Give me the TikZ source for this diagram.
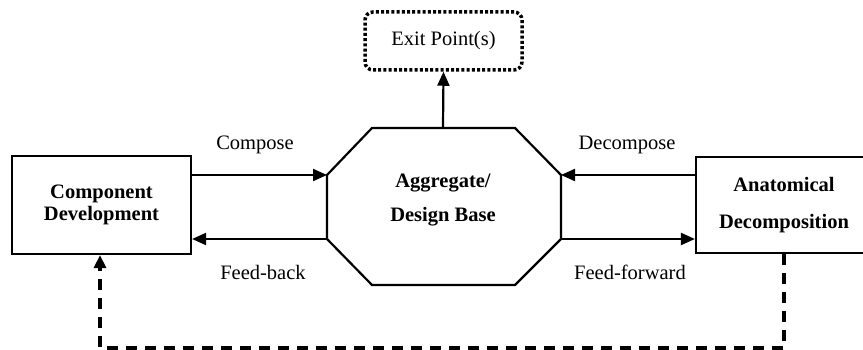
\documentclass[tikz,border=0pt]{standalone}
\usepackage{fontspec}
\setmainfont{Liberation Serif}
\usetikzlibrary{arrows.meta}
\begin{document}
\begin{tikzpicture}[x=1pt,y=-1pt,
  lbl/.style={font=\fontsize{20.5}{22}\selectfont, inner sep=0pt},
  box/.style={draw, line width=2.2pt, align=center, inner sep=0pt},
  boldtext/.style={font=\fontsize{20.5}{#1}\selectfont\bfseries},
  flow/.style={line width=2.2pt, -{Triangle[length=14pt,width=12pt]}},
  backlink/.style={line width=3.5pt, dash pattern=on 11pt off 8pt,
    -{Triangle[length=13pt,width=12pt]}},
  exitbox/.style={draw, line width=3.5pt, dash pattern=on 3pt off 2.2pt,
    rounded corners=8pt, minimum width=157pt, minimum height=58pt,
    inner sep=0pt, font=\fontsize{20.5}{22}\selectfont}
]
\path[use as bounding box, clip] (0,0) rectangle (863,350);

% central octagon
\coordinate (o1) at (372,128);
\coordinate (o2) at (515,128);
\coordinate (o3) at (561,175);
\coordinate (o4) at (561,239);
\coordinate (o5) at (515,285);
\coordinate (o6) at (372,285);
\coordinate (o7) at (327,239);
\coordinate (o8) at (327,175);
\coordinate (otop) at (443,128);
\draw[line width=2.2pt, line join=miter] (o1) -- (o2) -- (o3) -- (o4) -- (o5) -- (o6) -- (o7) -- (o8) -- cycle;
\node[boldtext=34, align=center, inner sep=0pt] (agg) at (443,200) {Aggregate/\\Design Base};

% side boxes
\node[box, boldtext=22, minimum width=179pt, minimum height=98pt] (comp) at (101.5,205) {Component\\Development};
\node[box, boldtext=37, minimum width=176pt, minimum height=96pt] (anat) at (784,205) {Anatomical\\Decomposition};

% exit box
\node[exitbox] (exit) at (443.5,41) {Exit Point(s)};

% flows
\draw[flow] (comp.east |- o8) -- (o8);
\draw[flow] (o7) -- (comp.east |- o7);
\draw[flow] (anat.west |- o3) -- (o3);
\draw[flow] (o4) -- (anat.west |- o4);
\draw[flow] (otop) -- (exit.south);

% labels
\node[lbl] (lcompose) at (255,145) {Compose};
\node[lbl] (lfeedback) at (263,272) {Feed-back};
\node[lbl] (ldecompose) at (627,145) {Decompose};
\node[lbl] (lfeedfwd) at (630,272) {Feed-forward};

% return path
\coordinate (dr) at (784,348);
\coordinate (dl) at (100,348);
\draw[backlink] (anat.south) -- (dr) -- (dl) -- (dl |- comp.south);
\end{tikzpicture}
\end{document}
